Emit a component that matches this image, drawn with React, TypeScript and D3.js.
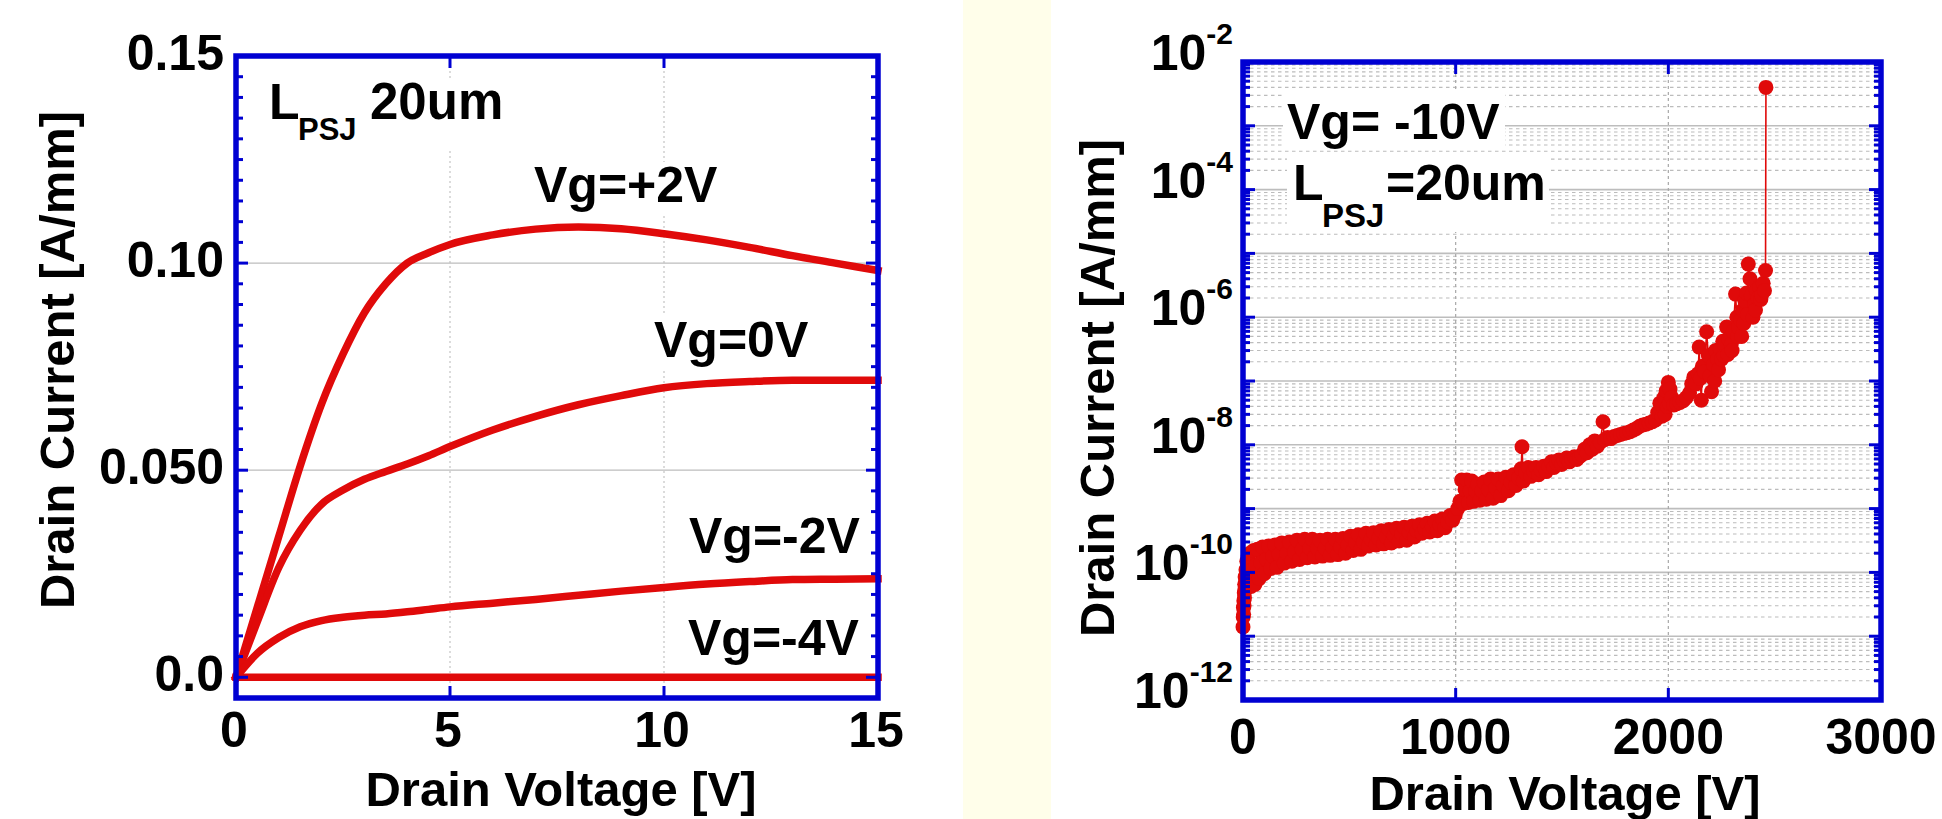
import * as d3 from "d3";

// ---- left panel: output characteristics ----
const drainVoltage = [0, 0.5, 1, 1.5, 2, 2.5, 3, 3.5, 4, 4.5, 5, 6, 7, 8, 9, 10, 11, 12, 13, 14, 15];
const idVgPlus2 = [0, 0.017, 0.034, 0.051, 0.066, 0.078, 0.088, 0.095, 0.1, 0.1025, 0.1045, 0.1068, 0.1082, 0.1087, 0.1083, 0.1071, 0.1056, 0.1038, 0.1018, 0.1, 0.0982];
const idVg0 = [0, 0.0135, 0.0265, 0.0355, 0.0418, 0.0452, 0.0478, 0.0497, 0.0515, 0.0535, 0.0557, 0.0597, 0.063, 0.0658, 0.068, 0.0699, 0.0709, 0.0714, 0.0717, 0.0717, 0.0717];
const idVgMinus2 = [0, 0.0058, 0.0096, 0.0122, 0.0137, 0.0145, 0.015, 0.0153, 0.0158, 0.0164, 0.017, 0.0179, 0.0188, 0.0198, 0.0208, 0.0217, 0.0225, 0.0231, 0.0236, 0.0237, 0.0238];
const idVgMinus4 = [0, 0, 0, 0, 0, 0, 0, 0, 0, 0, 0, 0, 0, 0, 0, 0, 0, 0, 0, 0, 0];
const curveLabels = ["Vg=+2V", "Vg=0V", "Vg=-2V", "Vg=-4V"];
const leftYTicks = [0, 0.05, 0.1, 0.15];
const leftYTickLabels = ["0.0", "0.050", "0.10", "0.15"];
const leftXTicks = [0, 5, 10, 15];

// ---- right panel: off-state sweep at Vg = -10V, [drain voltage V, drain current A/mm] ----
const breakdownSweep: [number, number][] = [
  [0, 1.4e-11], [1, 2.0e-11], [2, 2.8e-11], [3, 2.2e-11], [4, 3.6e-11], [5, 3.0e-11], [6, 4.8e-11], [7, 4.0e-11],
  [8, 6.5e-11], [9, 5.5e-11], [10, 8.5e-11], [12, 7e-11], [14, 1.1e-10], [16, 9e-11], [18, 1.5e-10], [20, 1.2e-10],
  [24, 1.8e-10], [28, 1.3e-10], [32, 2.0e-10], [38, 6e-11], [44, 1.1e-10], [50, 2.2e-10], [56, 6.5e-11], [62, 1.3e-10],
  [68, 2.3e-10], [76, 8e-11], [84, 1.4e-10], [92, 2.5e-10], [100, 9.5e-11], [110, 1.6e-10], [120, 2.6e-10], [130, 1.15e-10],
  [140, 1.8e-10], [150, 2.7e-10], [160, 1.2e-10], [170, 1.9e-10], [182, 2.9e-10], [194, 1.4e-10], [206, 2.0e-10], [218, 3.0e-10],
  [230, 1.5e-10], [242, 2.1e-10], [254, 3.2e-10], [266, 1.6e-10], [278, 2.3e-10], [290, 3.3e-10], [302, 1.7e-10], [314, 2.4e-10],
  [326, 3.3e-10], [338, 1.75e-10], [350, 2.4e-10], [362, 3.2e-10], [374, 1.8e-10], [386, 2.4e-10], [398, 3.3e-10], [410, 1.85e-10],
  [422, 2.5e-10], [434, 3.3e-10], [446, 1.9e-10], [458, 2.5e-10], [470, 3.4e-10], [482, 2.0e-10], [494, 2.7e-10], [506, 3.7e-10],
  [518, 2.2e-10], [530, 2.9e-10], [542, 3.9e-10], [554, 2.3e-10], [566, 3.0e-10], [578, 4.1e-10], [590, 2.6e-10], [602, 3.3e-10],
  [614, 4.2e-10], [626, 2.7e-10], [638, 3.4e-10], [650, 4.5e-10], [662, 2.8e-10], [674, 3.6e-10], [686, 4.7e-10], [698, 2.9e-10],
  [710, 3.8e-10], [722, 4.9e-10], [734, 3.1e-10], [746, 4.0e-10], [758, 5.1e-10], [770, 3.2e-10], [782, 4.2e-10], [794, 5.3e-10],
  [806, 3.6e-10], [818, 4.5e-10], [830, 5.6e-10], [842, 4.1e-10], [854, 4.9e-10], [866, 5.9e-10], [878, 4.3e-10], [890, 5.2e-10],
  [902, 6.4e-10], [914, 4.5e-10], [926, 5.6e-10], [938, 6.9e-10], [950, 5.0e-10], [962, 6.2e-10], [974, 7.8e-10], [986, 6.6e-10],
  [998, 8e-10], [1010, 1.0e-9], [1020, 1.3e-9], [1028, 2.8e-9], [1036, 1.2e-9], [1044, 2.0e-9], [1052, 2.8e-9], [1060, 1.25e-9],
  [1068, 1.9e-9], [1076, 2.7e-9], [1084, 1.3e-9], [1094, 1.9e-9], [1104, 2.4e-9], [1114, 1.35e-9], [1124, 1.9e-9], [1134, 2.6e-9],
  [1144, 1.4e-9], [1154, 2.0e-9], [1164, 2.9e-9], [1176, 1.45e-9], [1188, 2.1e-9], [1200, 2.9e-9], [1212, 1.6e-9], [1224, 2.3e-9],
  [1236, 3.1e-9], [1248, 1.9e-9], [1260, 2.6e-9], [1272, 3.4e-9], [1284, 2.3e-9], [1296, 3.0e-9], [1308, 4.2e-9], [1312, 9.3e-9],
  [1318, 2.7e-9], [1330, 3.6e-9], [1342, 4.4e-9], [1354, 3.2e-9], [1366, 3.9e-9], [1378, 4.4e-9], [1390, 3.4e-9], [1402, 4.0e-9],
  [1414, 4.6e-9], [1426, 3.8e-9], [1438, 4.6e-9], [1450, 5.4e-9], [1462, 4.4e-9], [1474, 5.2e-9], [1486, 5.8e-9], [1498, 4.9e-9],
  [1510, 5.6e-9], [1522, 6.2e-9], [1534, 5.4e-9], [1546, 6.0e-9], [1558, 6.5e-9], [1570, 5.9e-9], [1582, 6.5e-9], [1594, 7.0e-9],
  [1606, 8.5e-9], [1618, 7.5e-9], [1630, 1.0e-8], [1642, 8.5e-9], [1654, 1.15e-8], [1666, 9.5e-9], [1680, 1.1e-8], [1693, 2.3e-8],
  [1700, 1.2e-8], [1715, 1.3e-8], [1730, 1.25e-8], [1745, 1.35e-8], [1760, 1.4e-8], [1775, 1.45e-8], [1790, 1.5e-8], [1805, 1.55e-8],
  [1820, 1.6e-8], [1835, 1.7e-8], [1850, 1.8e-8], [1865, 1.95e-8], [1880, 2.05e-8], [1895, 2.1e-8], [1910, 2.2e-8], [1925, 2.3e-8],
  [1940, 2.45e-8], [1950, 3.2e-8], [1960, 4.5e-8], [1970, 2.8e-8], [1980, 5.5e-8], [1985, 3e-8], [1990, 7e-8], [1995, 4e-8],
  [2000, 9.5e-8], [2005, 4.5e-8], [2008, 7.5e-8], [2016, 5.5e-8], [2026, 4.2e-8], [2040, 4.4e-8], [2055, 4.6e-8], [2070, 4.9e-8],
  [2085, 5.5e-8], [2100, 6.5e-8], [2110, 9e-8], [2120, 1.15e-7], [2130, 9e-8], [2140, 1.3e-7], [2145, 3.4e-7], [2150, 1.1e-7],
  [2155, 5e-8], [2160, 1.7e-7], [2170, 1.4e-7], [2180, 5.9e-7], [2188, 2.5e-7], [2196, 1.2e-7], [2203, 6.8e-8], [2212, 1.8e-7],
  [2218, 1e-7], [2222, 3e-7], [2232, 2.2e-7], [2236, 1.5e-7], [2244, 3.2e-7], [2250, 2.2e-7], [2256, 4.2e-7], [2262, 2.5e-7],
  [2266, 3.6e-7], [2274, 7e-7], [2280, 2.6e-7], [2284, 4.5e-7], [2296, 3.8e-7], [2300, 3e-7], [2305, 6e-7], [2316, 2.3e-6],
  [2322, 1.0e-6], [2326, 5e-7], [2330, 7e-7], [2340, 9e-7], [2345, 5e-7], [2350, 1.3e-6], [2355, 8e-7], [2360, 1.8e-6],
  [2368, 2.4e-6], [2372, 1.1e-6], [2376, 6.8e-6], [2384, 4e-6], [2390, 2.2e-6], [2398, 1.0e-6], [2406, 1.6e-6], [2410, 1.3e-6],
  [2414, 2.6e-6], [2422, 2.0e-6], [2430, 3.0e-6], [2435, 1.9e-6], [2438, 2.2e-6], [2446, 3.4e-6], [2452, 2.6e-6], [2457, 5.4e-6],
  [2459, 4e-3],
];
const rightXTicks = [0, 1000, 2000, 3000];
const rightYLabelExponents = [-12, -10, -8, -6, -4, -2];

const RED = "#e00a0a";
const BLUE = "#0000d2";
const FONT = "'Liberation Sans', Arial, Helvetica, sans-serif";

function LeftPanel() {
  const x = d3.scaleLinear().domain([0, 15]).range([236, 878]);
  const y = d3.scaleLinear().domain([-0.005, 0.15]).range([698, 56]);
  const line = d3
    .line<number>()
    .x((_, i) => x(drainVoltage[i]))
    .y((d) => y(d))
    .curve(d3.curveMonotoneX);
  const series = [idVgPlus2, idVg0, idVgMinus2, idVgMinus4];
  const labelPos = [
    [534, 202],
    [654, 357],
    [689, 553],
    [688, 655],
  ];
  const minor = d3.range(-1, 31).map((k) => k * 0.005);

  return (
    <g fontFamily={FONT} fontWeight="bold">
      {/* grid */}
      {[5, 10].map((v) => (
        <line key={"gx" + v} x1={x(v)} x2={x(v)} y1={56} y2={698} stroke="#c4c4c4" strokeWidth={1.2} strokeDasharray="2,3" />
      ))}
      {[0.05, 0.1].map((v) => (
        <line key={"gy" + v} x1={236} x2={878} y1={y(v)} y2={y(v)} stroke="#bdbdbd" strokeWidth={1.2} />
      ))}
      {/* label boxes */}
      <rect x={262} y={78} width={250} height={70} fill="#fff" />
      <rect x={530} y={162} width={192} height={52} fill="#fff" />
      <rect x={650} y={316} width={162} height={52} fill="#fff" />

      {series.map((s, i) => (
        <path key={"c" + i} d={line(s) || ""} fill="none" stroke={RED} strokeWidth={7.5} strokeLinecap="square" strokeLinejoin="round" />
      ))}

      {/* frame and ticks */}
      {minor.map((v, i) => {
        const major = Math.abs(v / 0.05 - Math.round(v / 0.05)) < 1e-6;
        const len = major ? 12 : 7;
        return (
          <g key={"t" + i} stroke={BLUE} strokeWidth={3}>
            <line x1={236} x2={236 + len} y1={y(v)} y2={y(v)} />
            <line x1={878} x2={878 - len} y1={y(v)} y2={y(v)} />
          </g>
        );
      })}
      {[5, 10].map((v) => (
        <g key={"tx" + v} stroke={BLUE} strokeWidth={3}>
          <line x1={x(v)} x2={x(v)} y1={698} y2={686} />
          <line x1={x(v)} x2={x(v)} y1={56} y2={68} />
        </g>
      ))}
      <rect x={236} y={56} width={642} height={642} fill="none" stroke={BLUE} strokeWidth={5.5} />

      {/* tick labels */}
      {leftYTicks.map((v, i) => (
        <text key={"yl" + v} x={224} y={y(v) + 14} fontSize={50} textAnchor="end">
          {leftYTickLabels[i]}
        </text>
      ))}
      {leftXTicks.map((v) => (
        <text key={"xl" + v} x={x(v) - 2} y={747} fontSize={50} textAnchor="middle">
          {v}
        </text>
      ))}
      <text x={561} y={806} fontSize={49} textAnchor="middle">
        Drain Voltage [V]
      </text>
      <text transform="translate(74,360) rotate(-90)" fontSize={49} textAnchor="middle">
        Drain Current [A/mm]
      </text>

      {/* annotations */}
      <text y={119} fontSize={50}>
        <tspan x={269}>L</tspan>
        <tspan x={298} y={140} fontSize={31}>PSJ</tspan>
        <tspan x={370} y={119} fontSize={51}>20um</tspan>
      </text>
      {curveLabels.map((t, i) => (
        <text key={t} x={labelPos[i][0]} y={labelPos[i][1]} fontSize={50}>
          {t}
        </text>
      ))}
    </g>
  );
}

function RightPanel() {
  const x = d3.scaleLinear().domain([0, 3000]).range([1243, 1881]);
  const y = d3.scaleLog().domain([1e-12, 1e-2]).range([700, 62]);
  const pts = breakdownSweep.map(([v, i]) => [x(v), y(i)] as [number, number]);
  const line = d3.line();
  const logTicks: { v: number; major: boolean }[] = [];
  for (let e = -12; e <= -3; e++) {
    for (let k = 1; k <= 9; k++) logTicks.push({ v: k * Math.pow(10, e), major: k === 1 });
  }

  return (
    <g fontFamily={FONT} fontWeight="bold">
      {/* grid */}
      {logTicks.map((t, i) =>
        t.major ? (
          <line key={"g" + i} x1={1243} x2={1881} y1={y(t.v)} y2={y(t.v)} stroke="#bdbdbd" strokeWidth={1.6} />
        ) : (
          <line key={"g" + i} x1={1243} x2={1881} y1={y(t.v)} y2={y(t.v)} stroke="#bcbcbc" strokeWidth={1.1} strokeDasharray="3.5,3.5" />
        )
      )}
      {[1000, 2000].map((v) => (
        <line key={"gx" + v} x1={x(v)} x2={x(v)} y1={62} y2={700} stroke="#a8a8a8" strokeWidth={1.2} strokeDasharray="3,3" />
      ))}
      {/* label boxes */}
      <rect x={1283} y={92} width={222} height={58} fill="#fff" />
      <rect x={1287} y={152} width={262} height={80} fill="#fff" />

      {/* data */}
      <path d={line(pts) || ""} fill="none" stroke={RED} strokeWidth={1.6} />
      {pts.map((p, i) => (
        <circle key={"p" + i} cx={p[0]} cy={p[1]} r={7.5} fill={RED} />
      ))}

      {/* frame and ticks */}
      {logTicks.map((t, i) => {
        const len = t.major ? 12 : 7;
        return (
          <g key={"t" + i} stroke={BLUE} strokeWidth={3}>
            <line x1={1243} x2={1243 + len} y1={y(t.v)} y2={y(t.v)} />
            <line x1={1881} x2={1881 - len} y1={y(t.v)} y2={y(t.v)} />
          </g>
        );
      })}
      {[1000, 2000].map((v) => (
        <g key={"tx" + v} stroke={BLUE} strokeWidth={3}>
          <line x1={x(v)} x2={x(v)} y1={700} y2={688} />
          <line x1={x(v)} x2={x(v)} y1={62} y2={74} />
        </g>
      ))}
      <rect x={1243} y={62} width={638} height={638} fill="none" stroke={BLUE} strokeWidth={5.5} />

      {/* tick labels */}
      {rightYLabelExponents.map((e) => (
        <text key={"yl" + e} x={1233} y={y(Math.pow(10, e)) + 8} fontSize={50} textAnchor="end">
          10
          <tspan dy={-26} fontSize={30}>
            {e}
          </tspan>
        </text>
      ))}
      {rightXTicks.map((v) => (
        <text key={"xl" + v} x={x(v)} y={754} fontSize={50} textAnchor="middle">
          {v}
        </text>
      ))}
      <text x={1565} y={810} fontSize={49} textAnchor="middle">
        Drain Voltage [V]
      </text>
      <text transform="translate(1114,388) rotate(-90)" fontSize={49} textAnchor="middle">
        Drain Current [A/mm]
      </text>

      {/* annotations */}
      <text x={1287} y={139} fontSize={50}>
        Vg= -10V
      </text>
      <text y={200} fontSize={50}>
        <tspan x={1293}>L</tspan>
        <tspan x={1322} y={227} fontSize={33}>PSJ</tspan>
        <tspan x={1386} y={200}>=20um</tspan>
      </text>
    </g>
  );
}

export default function App() {
  return (
    <svg
      width={1942}
      height={819}
      viewBox="0 0 1942 819"
      style={{ position: "absolute", left: 0, top: 0, background: "#fff" }}
    >
      <rect x={0} y={0} width={1942} height={819} fill="#fff" />
      <rect x={963} y={0} width={88} height={819} fill="#fffeea" />
      <LeftPanel />
      <RightPanel />
    </svg>
  );
}
